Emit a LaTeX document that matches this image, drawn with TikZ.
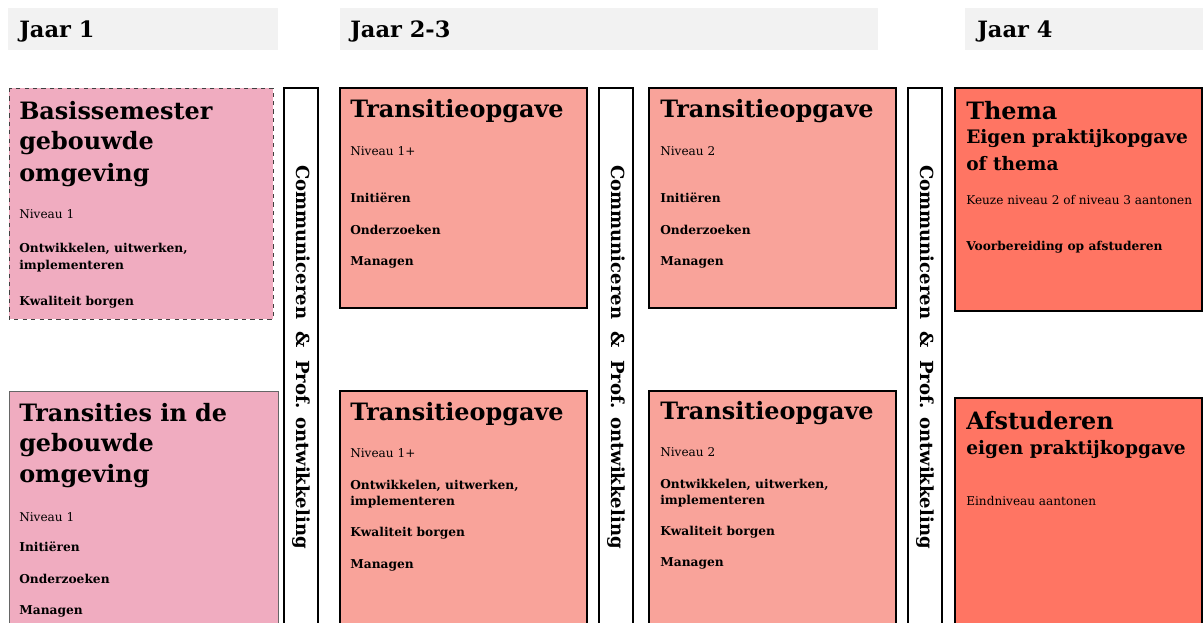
\documentclass[tikz,border=0pt]{standalone}
\usepackage{fontspec}
\setmainfont{DejaVu Serif}
\usepackage{tikz}

\definecolor{kopgrijs}{RGB}{242,242,242}
\definecolor{roze}{RGB}{240,172,192}
\definecolor{zalm}{RGB}{249,163,154}
\definecolor{rood}{RGB}{255,117,99}

\begin{document}
\begin{tikzpicture}[x=0.025cm,y=-0.025cm,
  kop/.style={anchor=west,inner sep=0pt,font=\fontsize{16}{19}\selectfont\bfseries},
  titel/.style={anchor=west,inner sep=0pt,font=\fontsize{17}{20}\selectfont\bfseries},
  sub/.style={anchor=west,inner sep=0pt,font=\fontsize{13.2}{15}\selectfont\bfseries},
  niv/.style={anchor=west,inner sep=0pt,font=\fontsize{8.6}{10}\selectfont},
  comp/.style={anchor=west,inner sep=0pt,font=\fontsize{8.7}{10}\selectfont\bfseries},
  balk/.style={rotate=-90,inner sep=0pt,font=\fontsize{12.8}{15}\selectfont\bfseries}]
  \useasboundingbox (0,0) rectangle (1203,623);
  \clip (0,0) rectangle (1203,623);

  % jaar koppen
  \fill[kopgrijs] (8,8) rectangle (278,50);
  \fill[kopgrijs] (340,8) rectangle (878,50);
  \fill[kopgrijs] (965,8) rectangle (1210,50);
  \node[kop] (j1) at (19,31) {Jaar 1};
  \node[kop] (j23) at (350,31) {Jaar 2-3};
  \node[kop] (j4) at (977,31) {Jaar 4};

  % jaar 1
  \draw[dashed,thin,black!75,fill=roze] (9,88) rectangle (273,319);
  \node[titel] (b1) at (19,111) {Basissemester};
  \node[titel] (b2) at (19,143) {gebouwde};
  \node[titel] (b3) at (19,175) {omgeving};
  \node[niv] (bn) at (19,214) {Niveau 1};
  \node[comp] (bo1) at (19,249) {Ontwikkelen, uitwerken,};
  \node[comp] (bo2) at (19,266) {implementeren};
  \node[comp] (bk) at (19,302) {Kwaliteit borgen};

  \draw[thin,black!60,fill=roze] (9,391) rectangle (278,640);
  \node[titel] (t1) at (19,413) {Transities in de};
  \node[titel] (t2) at (19,445) {gebouwde};
  \node[titel] (t3) at (19,476) {omgeving};
  \node[niv] (tn) at (19,517) {Niveau 1};
  \node[comp] (ti) at (19,547) {Initiëren};
  \node[comp] (to) at (19,579) {Onderzoeken};
  \node[comp] (tm) at (19,611) {Managen};

  % balken
  \draw[thick,fill=white] (284,88) rectangle (318,640);
  \draw[thick,fill=white] (599,88) rectangle (633,640);
  \draw[thick,fill=white] (908,88) rectangle (942,640);
  \node[balk] (c1) at (301,357) {Communiceren \ \& \ Prof. ontwikkeling};
  \node[balk] (c2) at (616,357) {Communiceren \ \& \ Prof. ontwikkeling};
  \node[balk] (c3) at (925,357) {Communiceren \ \& \ Prof. ontwikkeling};

  % jaar 2-3
  \draw[thick,fill=zalm] (340,88) rectangle (587,308);
  \node[titel] (a1) at (350,111) {Transitieopgave};
  \node[niv] (an) at (350,151) {Niveau 1+};
  \node[comp] (ai) at (350,198) {Initiëren};
  \node[comp] (ao) at (350,230) {Onderzoeken};
  \node[comp] (am) at (350,262) {Managen};

  \draw[thick,fill=zalm] (340,391) rectangle (587,640);
  \node[titel] (c1t) at (350,414) {Transitieopgave};
  \node[niv] (c1n) at (350,453) {Niveau 1+};
  \node[comp] (c1o1) at (350,486) {Ontwikkelen, uitwerken,};
  \node[comp] (c1o2) at (350,502) {implementeren};
  \node[comp] (c1k) at (350,533) {Kwaliteit borgen};
  \node[comp] (c1m) at (350,565) {Managen};

  \draw[thick,fill=zalm] (649,88) rectangle (896,308);
  \node[titel] (d1) at (660,111) {Transitieopgave};
  \node[niv] (dn) at (660,151) {Niveau 2};
  \node[comp] (di) at (660,198) {Initiëren};
  \node[comp] (do) at (660,230) {Onderzoeken};
  \node[comp] (dm) at (660,262) {Managen};

  \draw[thick,fill=zalm] (649,391) rectangle (896,640);
  \node[titel] (e1) at (660,413) {Transitieopgave};
  \node[niv] (en) at (660,452) {Niveau 2};
  \node[comp] (eo1) at (660,485) {Ontwikkelen, uitwerken,};
  \node[comp] (eo2) at (660,501) {implementeren};
  \node[comp] (ek) at (660,532) {Kwaliteit borgen};
  \node[comp] (em) at (660,563) {Managen};

  % jaar 4
  \draw[thick,fill=rood] (955,88) rectangle (1202,311);
  \node[titel] (th) at (966,111) {Thema};
  \node[sub] (ts1) at (966,139) {Eigen praktijkopgave};
  \node[sub] (ts2) at (966,164) {of thema};
  \node[niv] (tk) at (966,200) {Keuze niveau 2 of niveau 3 aantonen};
  \node[comp] (tv) at (966,247) {Voorbereiding op afstuderen};

  \draw[thick,fill=rood] (955,398) rectangle (1202,640);
  \node[titel] (af) at (966,421) {Afstuderen};
  \node[sub] (as) at (966,450) {eigen praktijkopgave};
  \node[niv] (ae) at (966,501) {Eindniveau aantonen};
\end{tikzpicture}
\end{document}
